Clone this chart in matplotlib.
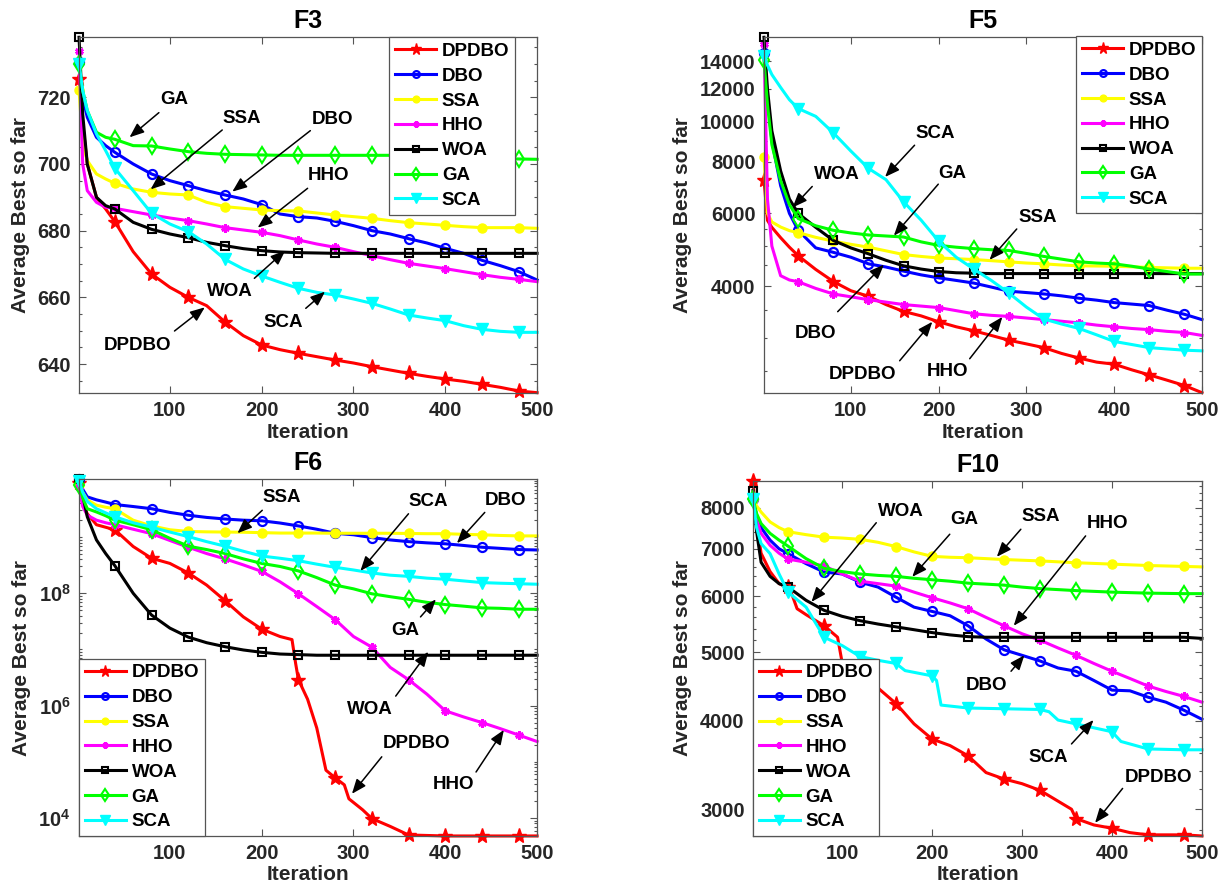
import math
import matplotlib
matplotlib.use('Agg')
import matplotlib.pyplot as plt
from matplotlib.ticker import FixedLocator, FuncFormatter, NullFormatter

plt.rcParams['font.family'] = ['Liberation Sans', 'DejaVu Sans']
plt.rcParams['font.weight'] = 'bold'
plt.rcParams['mathtext.fontset'] = 'custom'
plt.rcParams['mathtext.rm'] = 'Liberation Sans:bold'
plt.rcParams['mathtext.bf'] = 'Liberation Sans:bold'

names = ['DPDBO', 'DBO', 'SSA', 'HHO', 'WOA', 'GA', 'SCA']

# common iteration grid
grid = [1, 5, 10, 20, 30, 40, 60, 80, 100, 120, 140, 160, 180, 200, 220, 240,
        260, 280, 300, 320, 340, 360, 380, 400, 420, 440, 460, 480, 500]

# ---------------- F3 ----------------
f3_dpdbo = [725.4, 712, 700, 690, 686.5, 682.7, 673.7, 667, 663, 660, 657.5, 652.6, 648.5, 645.7, 644.3,
            643.2, 642.2, 641.2, 640.3, 639.2, 638.2, 637.2, 636.3, 635.5, 634.8, 633.9, 633, 631.9, 631.4]
f3_dbo = [730.5, 720, 714, 708, 705.5, 703.5, 700, 697, 695, 693.5, 692, 690.7, 689.5, 687.8, 685,
          684.2, 683.8, 682.8, 681.5, 680, 679, 677.6, 676.3, 674.7, 673.2, 671.1, 669.5, 667.7, 665.2]
f3_ssa = [722.2, 706, 701, 697, 695.5, 694.2, 692.5, 691.5, 691, 690.7, 688.5, 687.2, 686.7, 686.2, 686,
          685.9, 685.3, 684.7, 684.2, 683.7, 683, 682.4, 682, 681.6, 681.2, 680.9, 680.9, 680.9, 680.7]
f3_hho = [734, 700, 692, 688.5, 687, 686.7, 685.7, 684.7, 683.8, 683, 682, 680.9, 680.2, 679.5, 678.5,
          677.2, 676, 675, 673.7, 672.5, 671.3, 670.2, 669.4, 668.6, 667.7, 666.8, 666, 665.4, 664.7]
f3_woa = [738, 715, 700, 690, 687.5, 686.5, 682.5, 680.4, 679, 677.9, 676.5, 675.5, 674.6, 674, 673.6,
          673.4, 673.3, 673.2, 673.2, 673.2, 673.2, 673.2, 673.2, 673.2, 673.2, 673.2, 673.2, 673.2, 673.2]
f3_ga = [730, 722, 716, 709.5, 708, 707.4, 705.5, 705.4, 704.5, 703.7, 703.2, 702.9, 702.8, 702.7, 702.6,
         702.6, 702.6, 702.6, 702.6, 702.6, 702.6, 702.6, 702.6, 702.6, 702.6, 702.6, 701.6, 701.5, 701.4]
f3_sca = [730, 722, 716, 709, 704, 698.7, 692, 685.2, 682, 679.7, 676, 671.4, 668.5, 666.4, 664.5,
          662.7, 661.5, 660.7, 659.5, 658.2, 656.5, 654.7, 653.8, 653, 651.5, 650.4, 649.8, 649.5, 649.5]

# ---------------- F5 ----------------
f5_dpdbo = [7245, 5770, 5550, 5240, 4970, 4740, 4390, 4105, 3900, 3780, 3610, 3475, 3390, 3280, 3190,
            3120, 3040, 2960, 2900, 2840, 2750, 2680, 2620, 2590, 2510, 2440, 2370, 2300, 2210]
f5_dbo = [14640, 11500, 9000, 7000, 6000, 5460, 4950, 4830, 4700, 4530, 4450, 4350, 4260, 4190, 4130,
          4070, 3980, 3890, 3860, 3830, 3790, 3740, 3700, 3650, 3620, 3590, 3500, 3420, 3320]
f5_ssa = [8200, 6000, 5720, 5560, 5450, 5390, 5250, 5140, 5050, 4970, 4870, 4770, 4720, 4680, 4660,
          4640, 4610, 4580, 4550, 4530, 4500, 4480, 4475, 4470, 4455, 4440, 4430, 4420, 4420]
f5_hho = [15450, 6500, 5000, 4240, 4140, 4100, 3950, 3830, 3770, 3710, 3660, 3610, 3580, 3550, 3490,
          3430, 3400, 3380, 3350, 3320, 3290, 3260, 3220, 3190, 3160, 3140, 3110, 3090, 3040]
f5_woa = [16000, 12000, 9500, 7600, 6500, 6000, 5550, 5160, 4950, 4790, 4620, 4480, 4400, 4340, 4310,
          4300, 4290, 4290, 4290, 4290, 4290, 4290, 4290, 4290, 4290, 4290, 4290, 4290, 4290]
f5_ga = [14130, 11000, 8800, 7200, 6300, 5830, 5600, 5460, 5380, 5320, 5290, 5260, 5120, 5020, 4970,
         4930, 4900, 4880, 4800, 4720, 4650, 4580, 4550, 4530, 4470, 4400, 4340, 4280, 4280]
f5_sca = [14400, 13700, 13000, 12100, 11300, 10760, 10300, 9400, 8490, 7710, 7240, 6400, 5780, 5140, 4700,
          4400, 4130, 3850, 3560, 3330, 3240, 3160, 3050, 2940, 2890, 2840, 2820, 2800, 2790]

# ---------------- F6 ----------------
f6_dpdbo_iter = [1, 5, 10, 20, 40, 60, 80, 100, 120, 140, 160, 180, 200, 220, 233, 237, 240, 250, 260,
                 270, 280, 290, 295, 310, 320, 340, 360, 400, 440, 480, 500]
f6_dpdbo = [9.1e9, 4.0e9, 2.6e9, 1.66e9, 1.35e9, 6.8e8, 4.2e8, 3.4e8, 2.3e8, 1.4e8, 7.4e7, 3.8e7, 2.3e7,
            1.7e7, 1.5e7, 5.6e6, 2.9e6, 1.3e6, 4.0e5, 7.1e4, 5.2e4, 3.9e4, 2.2e4, 1.4e4, 9.8e3, 7.1e3,
            5.0e3, 4.8e3, 4.8e3, 4.8e3, 4.8e3]
f6_dbo = [1.07e10, 7.1e9, 5.2e9, 4.6e9, 4.2e9, 3.8e9, 3.5e9, 3.2e9, 2.75e9, 2.45e9, 2.24e9, 2.1e9, 2.0e9,
          1.95e9, 1.78e9, 1.58e9, 1.38e9, 1.17e9, 1.1e9, 9.8e8, 8.9e8, 8.3e8, 7.9e8, 7.6e8, 7.1e8, 6.6e8,
          6.3e8, 6.0e8, 5.9e8]
f6_ssa = [8.5e9, 6.3e9, 4.6e9, 3.7e9, 3.4e9, 3.2e9, 2.0e9, 1.58e9, 1.35e9, 1.26e9, 1.24e9, 1.23e9, 1.22e9,
          1.2e9, 1.18e9, 1.18e9, 1.18e9, 1.17e9, 1.17e9, 1.17e9, 1.17e9, 1.16e9, 1.15e9, 1.15e9, 1.12e9,
          1.1e9, 1.07e9, 1.05e9, 1.05e9]
f6_hho = [7.9e9, 3.5e9, 2.45e9, 2.0e9, 1.8e9, 1.66e9, 1.38e9, 1.15e9, 8.7e8, 6.6e8, 5.1e8, 4.1e8, 3.2e8,
          2.45e8, 1.6e8, 9.8e7, 5.8e7, 3.4e7, 1.7e7, 1.1e7, 4.8e6, 2.9e6, 1.6e6, 8.1e5, 6.3e5, 5.0e5,
          3.9e5, 3.0e5, 2.3e5]
f6_woa = [1.07e10, 5.6e9, 2.3e9, 8.9e8, 5.1e8, 3.1e8, 1.0e8, 4.1e7, 2.4e7, 1.66e7, 1.32e7, 1.12e7, 9.8e6,
          8.9e6, 8.3e6, 8.1e6, 7.9e6, 7.9e6, 7.9e6, 7.9e6, 7.9e6, 7.9e6, 7.9e6, 7.9e6, 7.9e6, 7.9e6,
          7.9e6, 7.9e6, 7.9e6]
f6_ga = [8.5e9, 5.0e9, 3.2e9, 2.8e9, 2.4e9, 2.0e9, 1.66e9, 1.35e9, 9.5e8, 6.9e8, 6.0e8, 5.1e8, 4.1e8,
         3.4e8, 3.0e8, 2.5e8, 1.9e8, 1.4e8, 1.2e8, 9.8e7, 8.7e7, 7.8e7, 6.9e7, 6.3e7, 5.9e7, 5.5e7,
         5.4e7, 5.2e7, 5.2e7]
f6_sca = [9.8e9, 6.3e9, 4.3e9, 3.2e9, 2.7e9, 2.3e9, 1.8e9, 1.5e9, 1.23e9, 1.02e9, 8.3e8, 6.9e8, 5.6e8,
          4.6e8, 4.2e8, 3.8e8, 3.3e8, 2.9e8, 2.6e8, 2.3e8, 2.1e8, 2.0e8, 1.86e8, 1.78e8, 1.66e8, 1.55e8,
          1.51e8, 1.48e8, 1.45e8]

# ---------------- F10 ----------------
f10_dpdbo_iter = [1, 5, 10, 20, 30, 40, 45, 50, 60, 80, 95, 100, 120, 140, 160, 180, 200, 220, 240, 260,
                  280, 300, 320, 340, 355, 360, 380, 400, 420, 440, 480, 500]
f10_dpdbo = [8740, 7600, 6900, 6500, 6250, 6180, 6000, 5760, 5650, 5450, 5250, 4840, 4620, 4450, 4230,
             3960, 3770, 3690, 3570, 3380, 3310, 3260, 3190, 3080, 3000, 2910, 2850, 2820, 2780, 2760,
             2760, 2750]
f10_dbo = [8240, 7800, 7500, 7200, 7000, 6890, 6670, 6490, 6450, 6280, 6180, 5980, 5790, 5710, 5630,
           5450, 5220, 5040, 4950, 4860, 4750, 4700, 4560, 4420, 4410, 4320, 4250, 4140, 4020]
f10_ssa = [8220, 8050, 7890, 7640, 7500, 7400, 7330, 7270, 7250, 7220, 7150, 7050, 6930, 6830, 6810,
           6800, 6780, 6760, 6745, 6730, 6710, 6690, 6675, 6660, 6645, 6630, 6620, 6610, 6600]
f10_hho = [8240, 7700, 7360, 7080, 6900, 6770, 6700, 6620, 6450, 6300, 6250, 6200, 6080, 5970, 5870,
           5760, 5600, 5450, 5310, 5200, 5070, 4950, 4820, 4700, 4590, 4480, 4400, 4330, 4250]
f10_woa = [8460, 7400, 6700, 6400, 6250, 6180, 5920, 5730, 5620, 5540, 5480, 5430, 5380, 5330, 5290,
           5260, 5250, 5250, 5250, 5250, 5250, 5250, 5250, 5250, 5250, 5250, 5250, 5250, 5230]
f10_ga = [8220, 7850, 7600, 7360, 7200, 7060, 6780, 6570, 6500, 6450, 6420, 6400, 6360, 6330, 6300,
          6260, 6240, 6220, 6180, 6150, 6130, 6110, 6095, 6080, 6070, 6060, 6055, 6050, 6050]
f10_sca_iter = [1, 5, 10, 20, 30, 40, 60, 80, 100, 120, 140, 160, 170, 200, 205, 210, 240, 280, 320, 330,
                340, 360, 400, 410, 440, 480, 500]
f10_sca = [8240, 7500, 7120, 6890, 6450, 6080, 5790, 5250, 5110, 4930, 4870, 4820, 4710, 4630, 4560,
           4210, 4170, 4160, 4150, 4120, 4010, 3960, 3860, 3740, 3650, 3640, 3640]

# arrow annotations: label, text position, arrow tail, arrow head (data coords)
f3_notes = [('GA', (105, 719.2), (88, 715.4), (56, 708)),
            ('SSA', (178.6, 713.7), (157, 710.2), (79, 692.4)),
            ('DBO', (276.7, 713.4), (253, 710), (168, 691.7)),
            ('HHO', (273, 696.4), (250, 692.7), (195.6, 680.9)),
            ('WOA', (165, 661.7), (192, 665.7), (225.6, 674)),
            ('SCA', (224, 652.4), (248, 656.7), (269, 661.7)),
            ('DPDBO', (64.7, 645.7), (105, 649.9), (138, 657))]
f5_notes = [('SCA', (196.4, 9370), (172.6, 8770), (139, 7350)),
            ('WOA', (84, 7460), (56, 6970), (33.6, 6200)),
            ('GA', (216, 7480), (199.6, 7060), (149, 5300)),
            ('SSA', (313, 5880), (289, 5500), (258, 4630)),
            ('DBO', (59.6, 3077), (85, 3470), (137.7, 4510)),
            ('DPDBO', (113, 2440), (155.6, 2640), (192.8, 3280)),
            ('HHO', (209.9, 2490), (235.4, 2670), (272.6, 3370))]
f6_notes = [('SSA', (221.4, 5.1e9), (200.6, 3.0e9), (173.6, 1.17e9)),
            ('SCA', (381.5, 4.3e9), (359.9, 2.6e9), (307.5, 2.5e8)),
            ('DBO', (465.9, 4.5e9), (443, 2.75e9), (412.7, 7.8e8)),
            ('GA', (356.5, 2.2e7), (373, 3.8e7), (389.8, 7.8e7)),
            ('WOA', (318.3, 8.5e5), (346, 1.48e6), (381.5, 9.1e6)),
            ('DPDBO', (369, 2.1e5), (330.8, 1.23e5), (298.3, 2.7e4)),
            ('HHO', (408.5, 3.9e4), (433.5, 6.6e4), (463.8, 3.7e5))]
f10_notes = [('WOA', (165, 7910), (138, 7620), (66, 5890)),
             ('GA', (236, 7690), (219.7, 7340), (178, 6390)),
             ('SSA', (320.5, 7780), (298.7, 7460), (272, 6820)),
             ('HHO', (394.8, 7590), (370.7, 7300), (290.8, 5450)),
             ('DBO', (260, 4480), (287.8, 4700), (302.6, 4950)),
             ('SCA', (328.8, 3550), (355, 3710), (379.5, 4010)),
             ('DPDBO', (451.5, 3330), (411.8, 3210), (381.2, 2870))]

styles = {
    'DPDBO': dict(color='r', marker='*', ms=11, mfc='r', mew=1),
    'DBO': dict(color='b', marker='o', ms=6.5, mfc='none', mew=1.6),
    'SSA': dict(color=(1, 1, 0), marker='o', ms=6.5, mfc=(1, 1, 0), mew=1),
    'HHO': dict(color=(1, 0, 1), marker=(6, 2, 0), ms=6, mew=2),
    'WOA': dict(color='k', marker='s', ms=6, mfc='none', mew=1.5),
    'GA': dict(color=(0, 1, 0), marker='d', ms=8.5, mfc='none', mew=1.5),
    'SCA': dict(color=(0, 1, 1), marker='v', ms=9, mfc=(0, 1, 1), mew=1),
}
txt_col = '#262626'
box_col = '#555555'


def draw(ax, series, notes, title, legend_loc, legend_anchor):
    lo, hi = None, None
    for name, it, vals in series:
        marks = [i for i, v in enumerate(it) if v == 1 or v % 40 == 0]
        ax.plot(it, vals, lw=2.2, label=name, markevery=marks, clip_on=False, **styles[name])
        lo = min(vals) if lo is None else min(lo, min(vals))
        hi = max(vals) if hi is None else max(hi, max(vals))
    ax.set_xlim(1, 500)
    ax.set_ylim(lo, hi)
    ax.set_xticks([100, 200, 300, 400, 500])
    for lab, tp, tail, head in notes:
        ax.annotate('', xy=head, xytext=tail,
                    arrowprops=dict(arrowstyle='-|>,head_length=0.55,head_width=0.22', color='k',
                                    lw=1.1, shrinkA=0, shrinkB=0, mutation_scale=16))
        ax.text(tp[0], tp[1], lab, ha='center', va='center', fontsize=13.5, fontweight='bold', color='k')
    ax.set_title(title, fontsize=18, fontweight='bold', pad=6.5, color='k')
    ax.set_xlabel('Iteration', fontsize=15, fontweight='bold', color=txt_col)
    ax.set_ylabel('Average Best so far', fontsize=15, fontweight='bold', color=txt_col)
    ax.tick_params(which='both', direction='in', top=True, right=True, labelsize=14.5,
                   colors=box_col, labelcolor=txt_col, width=0.8)
    ax.tick_params(which='major', length=5, pad=6)
    ax.tick_params(which='minor', length=2.5)
    ax.tick_params(axis='x', which='minor', bottom=False, top=False)
    for sp in ax.spines.values():
        sp.set_linewidth(0.9)
        sp.set_color(box_col)
    leg = ax.legend(loc=legend_loc, bbox_to_anchor=legend_anchor, borderaxespad=0, fontsize=13.5,
                    handlelength=2.2, handletextpad=0.3, labelspacing=0.41, borderpad=0.3,
                    fancybox=False, framealpha=1, edgecolor=box_col)
    leg.get_frame().set_linewidth(0.9)
    for t in leg.get_texts():
        t.set_fontweight('bold')
        t.set_color('k')
    for h in leg.legend_handles:
        h.set_markersize(h.get_markersize() * 0.75)


fig = plt.figure(figsize=(12.31, 8.88), dpi=100)
ax3 = fig.add_axes([0.0642, 0.5578, 0.3721, 0.4002])
ax5 = fig.add_axes([0.6206, 0.5578, 0.3558, 0.4002])
ax6 = fig.add_axes([0.0642, 0.0586, 0.3721, 0.4017])
ax10 = fig.add_axes([0.6117, 0.0586, 0.3647, 0.4002])

# F3 (linear)
s3 = [(n, grid, v) for n, v in zip(names, [f3_dpdbo, f3_dbo, f3_ssa, f3_hho, f3_woa, f3_ga, f3_sca])]
draw(ax3, s3, f3_notes, 'F3', 'upper right', (0.952, 1.0))
ax3.set_yticks([640, 660, 680, 700, 720])
ax3.yaxis.set_minor_locator(FixedLocator(list(range(635, 740, 5))))

# F5 (log)
ax5.set_yscale('log')
s5 = [(n, grid, v) for n, v in zip(names, [f5_dpdbo, f5_dbo, f5_ssa, f5_hho, f5_woa, f5_ga, f5_sca])]
draw(ax5, s5, f5_notes, 'F5', 'upper right', (1.0, 1.003))
ax5.yaxis.set_major_locator(FixedLocator([4000, 6000, 8000, 10000, 12000, 14000]))
ax5.yaxis.set_major_formatter(FuncFormatter(lambda v, p: '%d' % v))
ax5.yaxis.set_minor_locator(FixedLocator([2500, 3000, 3500, 4500, 5000, 5500, 7000, 9000, 11000,
                                          13000, 15000]))
ax5.yaxis.set_minor_formatter(NullFormatter())

# F6 (log)
ax6.set_yscale('log')
s6 = [('DPDBO', f6_dpdbo_iter, f6_dpdbo)] + \
     [(n, grid, v) for n, v in zip(names[1:], [f6_dbo, f6_ssa, f6_hho, f6_woa, f6_ga, f6_sca])]
draw(ax6, s6, f6_notes, 'F6', 'lower left', (0.0, 0.0))
ax6.yaxis.set_major_locator(FixedLocator([1e4, 1e6, 1e8]))
ax6.yaxis.set_major_formatter(FuncFormatter(lambda v, p: r'$\mathbf{10^{%d}}$' % round(math.log10(v))))
ax6.yaxis.set_minor_locator(FixedLocator([k * 10.0 ** d for d in range(3, 11) for k in range(1, 10)
                                          if not (k == 1 and d in (4, 6, 8))]))
ax6.yaxis.set_minor_formatter(NullFormatter())

# F10 (log)
ax10.set_yscale('log')
s10 = [('DPDBO', f10_dpdbo_iter, f10_dpdbo)] + \
      [(n, grid, v) for n, v in zip(names[1:6], [f10_dbo, f10_ssa, f10_hho, f10_woa, f10_ga])] + \
      [('SCA', f10_sca_iter, f10_sca)]
draw(ax10, s10, f10_notes, 'F10', 'lower left', (0.0, 0.0))
ax10.yaxis.set_major_locator(FixedLocator([3000, 4000, 5000, 6000, 7000, 8000]))
ax10.yaxis.set_major_formatter(FuncFormatter(lambda v, p: '%d' % v))
ax10.yaxis.set_minor_locator(FixedLocator(list(range(2800, 8800, 200))))
ax10.yaxis.set_minor_formatter(NullFormatter())

# label positions
ax3.yaxis.set_label_coords(-0.107, 0.5)
ax5.yaxis.set_label_coords(-0.164, 0.5)
ax6.yaxis.set_label_coords(-0.105, 0.5)
ax10.yaxis.set_label_coords(-0.136, 0.5)
for ax in (ax3, ax5):
    ax.xaxis.set_label_coords(0.5, -0.085)
for ax in (ax6, ax10):
    ax.xaxis.set_label_coords(0.5, -0.082)

fig.savefig('out.png', dpi=100)
